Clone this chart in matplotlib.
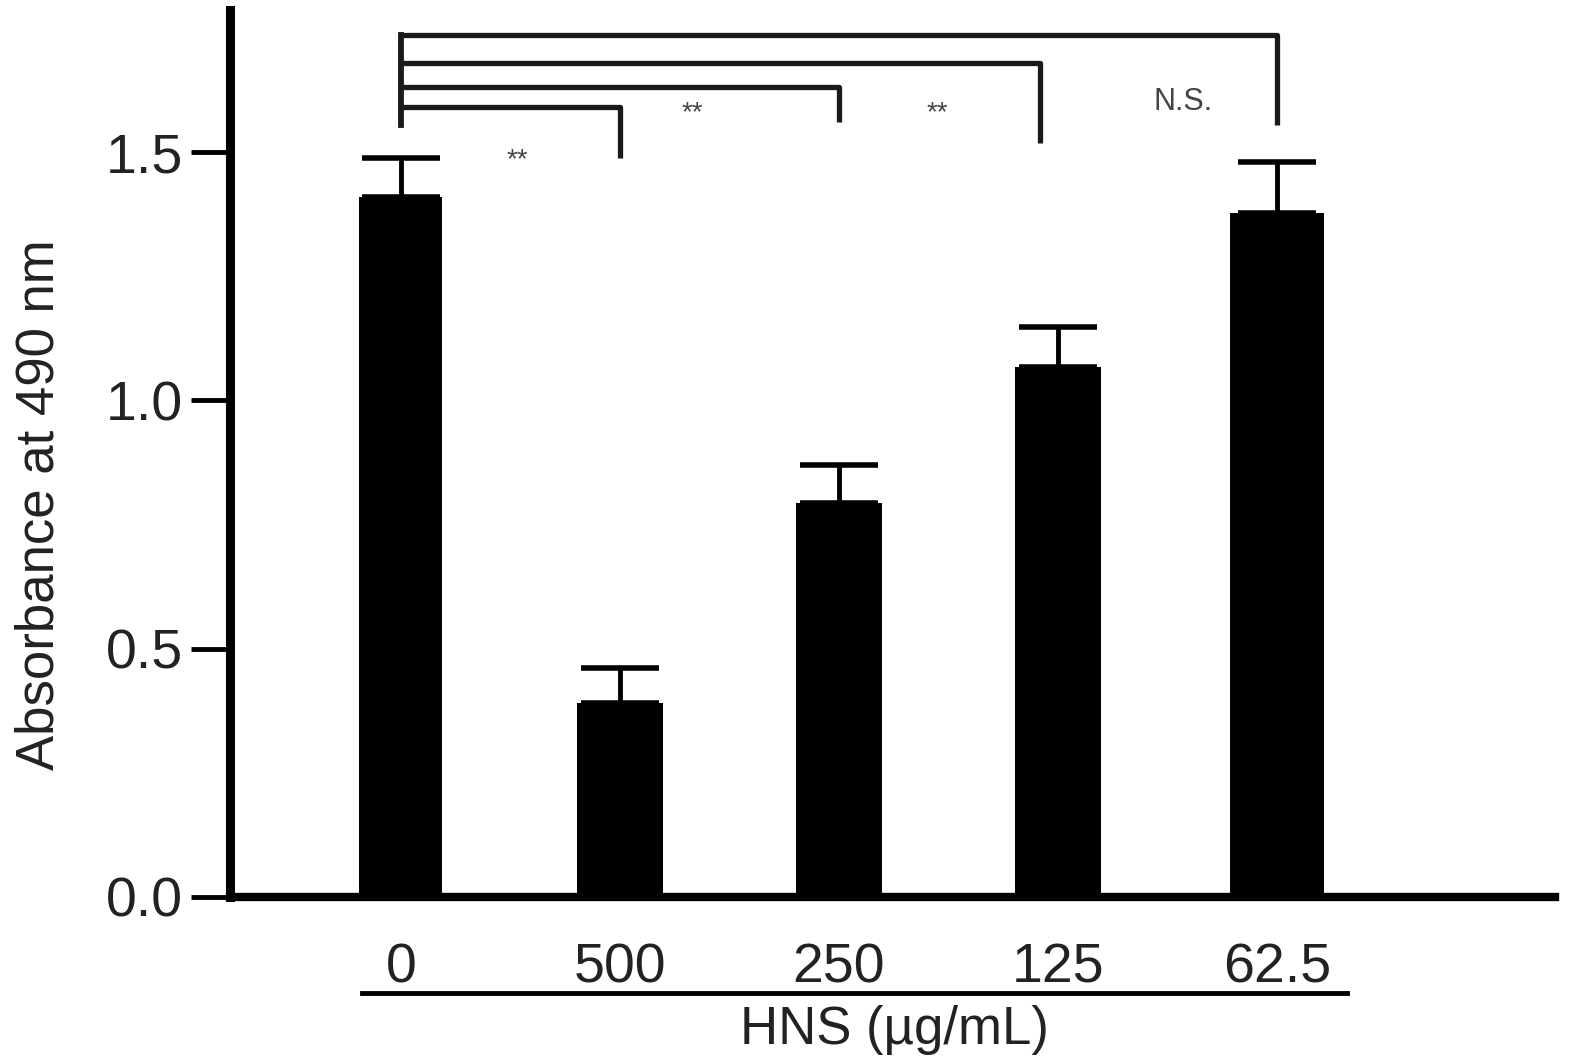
import numpy as np
import matplotlib
matplotlib.use('Agg')
import matplotlib.pyplot as plt
import matplotlib.transforms as mtransforms

plt.rcParams['font.family'] = ['Liberation Sans', 'DejaVu Sans']

# data
doses = ['0', '500', '250', '125', '62.5']
absorbance = [1.409, 0.391, 0.793, 1.067, 1.377]
sem = [0.079, 0.070, 0.077, 0.081, 0.103]
bar_widths = [0.38, 0.39, 0.39, 0.39, 0.43]

# significance brackets vs. control (index 0)
bracket_to = [1, 2, 2.92, 4]
bracket_top = [1.590, 1.631, 1.679, 1.735]
bracket_drop = [1.488, 1.560, 1.518, 1.554]
sig_labels = ['**', '**', '**', 'N.S.']
sig_x = [0.53, 1.33, 2.45, 3.57]
sig_y = [1.484, 1.578, 1.578, 1.60]

fig = plt.figure(figsize=(15.71, 10.61), dpi=100)
ax = fig.add_axes([0.1464, 0.1546, 0.8434, 0.836])

x = np.arange(len(doses))
ax.bar(x, absorbance, width=bar_widths, color='black', zorder=3)
# lower cap sits behind the bar, only the upper half shows
ax.errorbar(x, absorbance, yerr=[np.zeros(len(sem)), sem], fmt='none',
            ecolor='black', elinewidth=3.5, capsize=28, capthick=4, zorder=2)

# brackets
for xe, yt, yd in zip(bracket_to, bracket_top, bracket_drop):
    ax.plot([0, xe, xe], [yt, yt, yd], color='#1a1a1a', lw=3.8,
            solid_capstyle='butt', clip_on=False)
ax.plot([0, 0], [max(bracket_top), 1.554], color='#1a1a1a', lw=4.2, clip_on=False)

for lab, sx, sy in zip(sig_labels, sig_x, sig_y):
    fs = 20 if lab == '**' else 22
    ax.text(sx, sy, lab, ha='center', va='center', fontsize=fs, color='#444444')

ax.set_xlim(-0.78, 5.27)
ax.set_ylim(0, 1.786)
ax.set_yticks([0.0, 0.5, 1.0, 1.5])
ax.set_yticklabels(['0.0', '0.5', '1.0', '1.5'])
ax.set_xticks(x)
ax.set_xticklabels(doses)

ax.spines['top'].set_visible(False)
ax.spines['right'].set_visible(False)
ax.spines['left'].set_linewidth(6.5)
ax.spines['bottom'].set_linewidth(6)

ax.tick_params(axis='y', length=28, width=3.5, pad=6, labelsize=40, labelcolor='#222222')
ax.tick_params(axis='x', length=0, pad=33, labelsize=40, labelcolor='#222222')

# underline and group label below the dose labels
trans = mtransforms.blended_transform_factory(ax.transData, ax.transAxes)
ax.plot([-0.178, 4.32], [-0.108, -0.108], color='black', lw=3.5,
        transform=trans, clip_on=False)
ax.text(2.256, -0.150, 'HNS (\u00b5g/mL)', transform=trans, ha='center',
        va='center', fontsize=38, color='#222222')

fig.text(40 / 1571, 1 - 505 / 1061, 'Absorbance at 490 nm', rotation=90,
         ha='center', va='center', fontsize=38, color='#222222')

fig.savefig('out.png', dpi=100)
